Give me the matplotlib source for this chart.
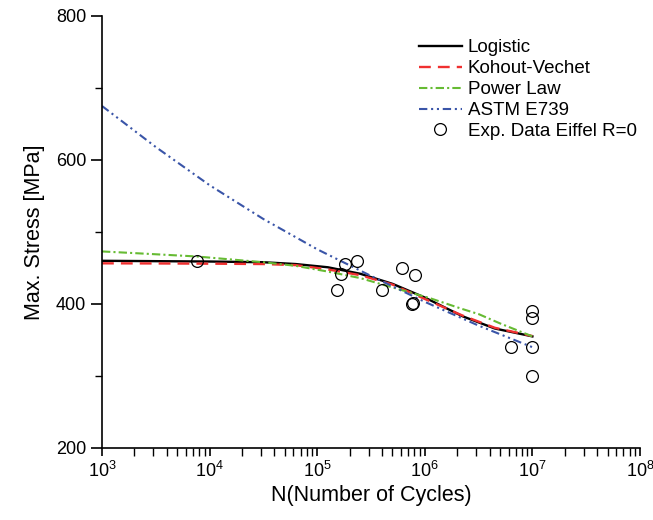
import matplotlib
matplotlib.use("Agg")
import matplotlib.pyplot as plt
import numpy as np

plt.rcParams['font.family'] = ['Liberation Sans', 'DejaVu Sans']

# curves (log10 N, stress in MPa)
logistic_logN = [3.0, 3.5, 4.0, 4.5, 4.8, 5.1, 5.4, 5.7, 6.0, 6.35, 6.65, 7.0]
logistic_S = [460, 459.5, 459, 458, 455.5, 451, 442, 428, 409, 383, 366, 355]

kv_logN = [3.0, 3.5, 4.0, 4.5, 4.8, 5.1, 5.4, 5.7, 6.0, 6.35, 6.65, 7.0]
kv_S = [456.5, 456.3, 456, 455.5, 454, 448, 440, 427, 407, 384, 367, 355.5]

pl_logN = [3.0, 3.26, 3.88, 4.5, 4.8, 5.1, 5.4, 5.7, 6.05, 6.35, 6.5, 6.7, 7.0]
pl_S = [473, 471, 466, 458, 453, 445, 436, 423, 408, 393, 386, 373, 355]

astm_logN = [3.0, 3.5, 4.0, 4.5, 5.0, 5.5, 6.0, 6.5, 7.0]
astm_S = [675, 618, 565, 518, 476, 439, 403, 370, 340]

# experimental points
exp_N = [7.6e3, 1.81e5, 2.33e5, 1.65e5, 1.54e5, 3.97e5, 6.1e5, 8.1e5,
         7.55e5, 7.7e5, 1e7, 1e7, 1e7, 6.3e6, 1e7]
exp_S = [460, 455, 460, 441, 420, 420, 450, 440, 400, 401, 390, 380, 340, 340, 300]

fig = plt.figure(figsize=(6.53, 5.20), dpi=100)
ax = fig.add_axes([102/653, 72/520, 538/653, 432/520])

ax.plot(10**np.array(logistic_logN), logistic_S, color='black', lw=1.7, label='Logistic')
ax.plot(10**np.array(kv_logN), kv_S, color='#f03030', lw=1.7, dashes=(5, 3), label='Kohout-Vechet')
ax.plot(10**np.array(pl_logN), pl_S, color='#66bb33', lw=1.5, dashes=(4, 1.5, 1, 1.5), label='Power Law')
ax.plot(10**np.array(astm_logN), astm_S, color='#3a55a8', lw=1.5,
        dashes=(4, 1.8, 1, 1.8, 1, 1.8), label='ASTM E739')
ax.plot(exp_N, exp_S, 'o', mfc='none', mec='black', ms=8.5, mew=0.9, ls='none',
        label='Exp. Data Eiffel R=0')

ax.set_xscale('log')
ax.set_xlim(1e3, 1e8)
ax.set_ylim(200, 800)
ax.set_yticks([200, 400, 600, 800])
ax.set_yticks([300, 500, 700], minor=True)

for s in ['top', 'right']:
    ax.spines[s].set_visible(False)
ax.spines['left'].set_linewidth(1.2)
ax.spines['bottom'].set_linewidth(1.2)
ax.tick_params(which='major', direction='out', length=8, width=1.2, labelsize=13)
ax.tick_params(which='minor', direction='out', length=5, width=1.0)
ax.tick_params(axis='x', which='both', length=6)

ax.set_xlabel('N(Number of Cycles)', fontsize=15.5, labelpad=3)
ax.set_ylabel('Max. Stress [MPa]', fontsize=15.5, labelpad=8)

ax.legend(loc='upper left', bbox_to_anchor=(0.589, 0.946), frameon=False,
          fontsize=13.5, handlelength=2.3, handletextpad=0.3, labelspacing=0.2,
          borderpad=0, borderaxespad=0)

fig.savefig('out.png', dpi=100)
